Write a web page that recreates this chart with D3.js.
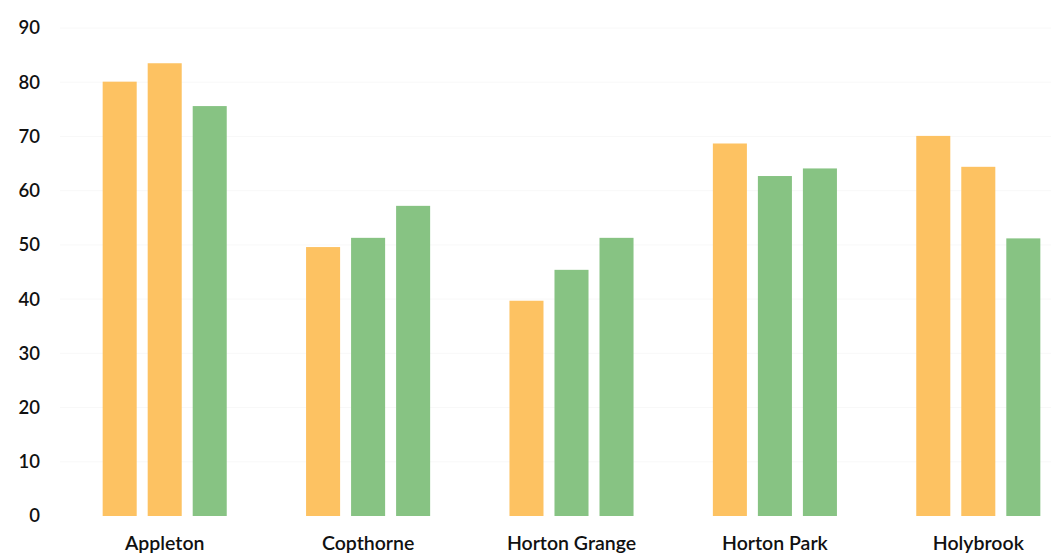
<!DOCTYPE html>
<html><head><meta charset="utf-8">
<script src="https://cdn.jsdelivr.net/npm/d3@7"></script>
<style>html,body{margin:0;padding:0;background:#fff;}svg{display:block;}</style>
</head><body>
<svg id="chart" width="1051" height="555"></svg>
<script>
const categories = ["Appleton", "Copthorne", "Horton Grange", "Horton Park", "Holybrook"];
const series = ["s1", "s2", "s3"];
const values = [
  [80.1, 83.5, 75.6],
  [49.6, 51.3, 57.2],
  [39.7, 45.4, 51.3],
  [68.7, 62.7, 64.1],
  [70.1, 64.4, 51.2]
];
const ratings = [
  ["amber", "amber", "green"],
  ["amber", "green", "green"],
  ["amber", "green", "green"],
  ["amber", "green", "green"],
  ["amber", "amber", "green"]
];
const yTicks = [0, 10, 20, 30, 40, 50, 60, 70, 80, 90];

const svg = d3.select("#chart");
const y = d3.scaleLinear().domain([0, 90]).range([516, 28]);
const x0 = d3.scaleBand().domain(categories).range([63, 1080]).paddingInner(0.39).paddingOuter(0.195);
const x1 = d3.scaleBand().domain(series).range([0, x0.bandwidth()]).paddingInner(0.244);
const color = d3.scaleOrdinal().domain(["amber", "green"]).range(["#FDC262", "#87C383"]);

// faint gridlines
svg.append("g").selectAll("line").data(yTicks.slice(1)).join("line")
  .attr("x1", 60).attr("x2", 1051)
  .attr("y1", d => y(d)).attr("y2", d => y(d))
  .attr("stroke", "#f8f8f8").attr("stroke-width", 1);

// y axis
const yAxis = svg.append("g").attr("transform", "translate(40,0)")
  .call(d3.axisLeft(y).tickValues(yTicks).tickSize(0).tickPadding(0));
yAxis.select(".domain").remove();
yAxis.selectAll("text").attr("font-family", "Lato, 'Open Sans', sans-serif")
  .attr("font-size", 18.5).attr("font-weight", 600).attr("fill", "#111");

// bars
const groups = svg.append("g").selectAll("g").data(categories).join("g")
  .attr("transform", d => `translate(${x0(d)},0)`);
groups.selectAll("rect").data((d, i) => series.map((s, j) => ({ s, v: values[i][j], r: ratings[i][j] })))
  .join("rect")
  .attr("x", d => x1(d.s)).attr("width", x1.bandwidth())
  .attr("y", d => y(d.v)).attr("height", d => y(0) - y(d.v))
  .attr("fill", d => color(d.r));

// x axis labels
const xAxis = svg.append("g").attr("transform", "translate(0,516)")
  .call(d3.axisBottom(x0).tickSize(0).tickPadding(20));
xAxis.select(".domain").remove();
xAxis.selectAll("text").attr("font-family", "Lato, 'Open Sans', sans-serif")
  .attr("font-size", 19.5).attr("font-weight", 600).attr("fill", "#111");
</script>
</body></html>
